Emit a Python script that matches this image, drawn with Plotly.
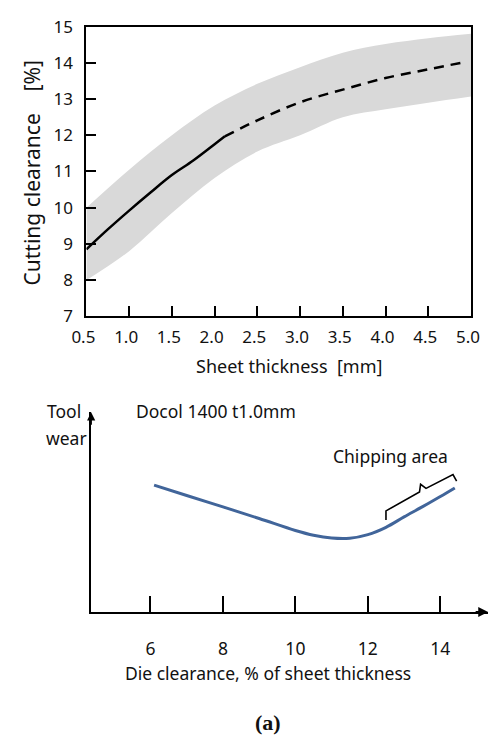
import numpy as np
import plotly.graph_objects as go

# ---- Upper panel: recommended cutting clearance vs. sheet thickness ----
thick_solid = [0.5, 0.75, 1.0, 1.25, 1.5, 1.75, 2.0, 2.12]
clear_solid = [8.85, 9.4, 9.92, 10.42, 10.9, 11.3, 11.75, 11.97]

thick_dash = [2.12, 2.5, 3.0, 3.5, 4.0, 4.5, 4.95]
clear_dash = [11.97, 12.41, 12.91, 13.26, 13.58, 13.82, 14.03]

band_x = [0.5, 1.0, 1.5, 2.0, 2.5, 3.0, 3.5, 4.0, 4.5, 5.0]
band_hi = [10.0, 11.05, 12.0, 12.82, 13.42, 13.88, 14.28, 14.52, 14.68, 14.8]
band_lo = [8.0, 8.8, 9.85, 10.82, 11.55, 12.0, 12.5, 12.72, 12.9, 13.07]

x_ticks = [0.5, 1.0, 1.5, 2.0, 2.5, 3.0, 3.5, 4.0, 4.5, 5.0]
y_ticks = [7, 8, 9, 10, 11, 12, 13, 14, 15]

# ---- Lower panel: tool wear vs. die clearance (Docol 1400, t = 1.0 mm) ----
die_clear = [6.1, 7.0, 8.0, 9.0, 10.0, 10.5, 11.0, 11.5, 12.0, 12.5, 13.0, 13.5, 14.0, 14.4]
tool_wear = [63.5, 58.3, 52.6, 46.8, 40.8, 38.4, 37.0, 36.9, 38.7, 42.4, 47.6, 52.6, 57.8, 62.1]
die_ticks = [6, 8, 10, 12, 14]
chip_range = [12.5, 14.45]

FONT = "Noto Sans"
INK = "#111111"

fig = go.Figure()

# shaded tolerance band
fig.add_trace(go.Scatter(x=band_x, y=band_lo, mode="lines",
                         line=dict(width=0, shape="spline"),
                         hoverinfo="skip", showlegend=False, xaxis="x", yaxis="y"))
fig.add_trace(go.Scatter(x=band_x, y=band_hi, mode="lines",
                         line=dict(width=0, shape="spline"),
                         fill="tonexty", fillcolor="#d9d9d9",
                         hoverinfo="skip", showlegend=False, xaxis="x", yaxis="y"))
# measured range (solid) and extrapolation (dashed)
fig.add_trace(go.Scatter(x=thick_solid, y=clear_solid, mode="lines",
                         line=dict(color="black", width=2.5, shape="spline"),
                         showlegend=False, xaxis="x", yaxis="y"))
fig.add_trace(go.Scatter(x=thick_dash, y=clear_dash, mode="lines",
                         line=dict(color="black", width=2.5, shape="spline", dash="10px,7px"),
                         showlegend=False, xaxis="x", yaxis="y"))

# tool wear curve
fig.add_trace(go.Scatter(x=die_clear, y=tool_wear, mode="lines",
                         line=dict(color="#41659a", width=3, shape="spline"),
                         showlegend=False, xaxis="x2", yaxis="y2"))

# curly brace marking the chipping area, drawn just above the curve
s, e = chip_range
m = s + 0.49 * (e - s)
bx = np.array([s, s, m - 0.03, m, m + 0.15, e - 0.1, e])
base = np.interp(bx, die_clear, tool_wear)
lift = np.array([3.7, 8.2, 8.2, 11.8, 8.2, 7.2, 3.4])
fig.add_trace(go.Scatter(x=bx, y=base + lift, mode="lines",
                         line=dict(color="black", width=1.6),
                         showlegend=False, xaxis="x2", yaxis="y2"))

axis_common = dict(showgrid=False, zeroline=False, showline=True,
                   linecolor="black", tickcolor="black", ticks="inside")

x2_lo, x2_hi = 4.363, 15.32

fig.update_layout(
    width=500, height=748,
    margin=dict(l=0, r=0, t=0, b=0),
    paper_bgcolor="white", plot_bgcolor="white",
    font=dict(family=FONT, color=INK),
    xaxis=dict(domain=[0.15, 0.958], range=[0.5, 5.0], tickvals=x_ticks,
               tickformat=".1f", ticklen=10, tickwidth=2, linewidth=2,
               mirror=True, anchor="y", tickfont=dict(size=17),
               ticklabelstandoff=4, ticklabelshift=-3, **axis_common),
    yaxis=dict(domain=[0.5802, 0.9799], range=[7, 15], tickvals=y_ticks,
               ticklen=10, tickwidth=2, linewidth=2, mirror=True, anchor="x",
               tickfont=dict(size=17), ticklabelstandoff=8, **axis_common),
    xaxis2=dict(domain=[0.16, 0.994], range=[x2_lo, x2_hi], tickvals=die_ticks,
                ticklen=16, tickwidth=2, linewidth=2, anchor="y2",
                tickfont=dict(size=17.5), ticklabelstandoff=20, **axis_common),
    yaxis2=dict(domain=[0.1725, 0.4479], range=[0, 100], showticklabels=False,
                showgrid=False, zeroline=False, showline=True, linecolor="black",
                linewidth=1.5, ticks="", anchor="x2"),
)

def label(text, x, y, size, xanchor="center", angle=0, family=FONT):
    fig.add_annotation(text=text, x=x, y=y, xref="paper", yref="paper",
                       xanchor=xanchor, yanchor="middle", showarrow=False,
                       textangle=angle, font=dict(family=family, size=size, color=INK))

label("Cutting clearance\u00a0\u00a0\u00a0\u00a0[%]", 0.036, 0.7774, 21, angle=-90)
label("Sheet thickness\u00a0\u00a0[mm]", 0.576, 0.512, 18)
label("Tool", 0.062, 0.4496, 17.5, xanchor="left")
label("wear", 0.06, 0.4118, 17.5, xanchor="left")
label("Docol 1400 t1.0mm", 0.25, 0.4492, 17.5, xanchor="left")
label("Chipping area", 0.6634, 0.3873, 17.5, xanchor="left")
label("Die clearance, % of sheet thickness", 0.531, 0.0886, 17.5)
label("<b>(a)</b>", 0.532, 0.0197, 22, family="Liberation Serif")

# arrowheads on the ends of the lower panel's axes
fig.add_annotation(x=x2_lo, y=100, xref="x2", yref="y2", ax=0, ay=14,
                   text="", showarrow=True, arrowhead=2, arrowsize=1.1,
                   arrowwidth=1.5, arrowcolor="black")
fig.add_annotation(x=x2_hi, y=0, xref="x2", yref="y2", ax=-14, ay=0,
                   text="", showarrow=True, arrowhead=2, arrowsize=1.1,
                   arrowwidth=1.8, arrowcolor="black")

fig.write_html("out.html")
